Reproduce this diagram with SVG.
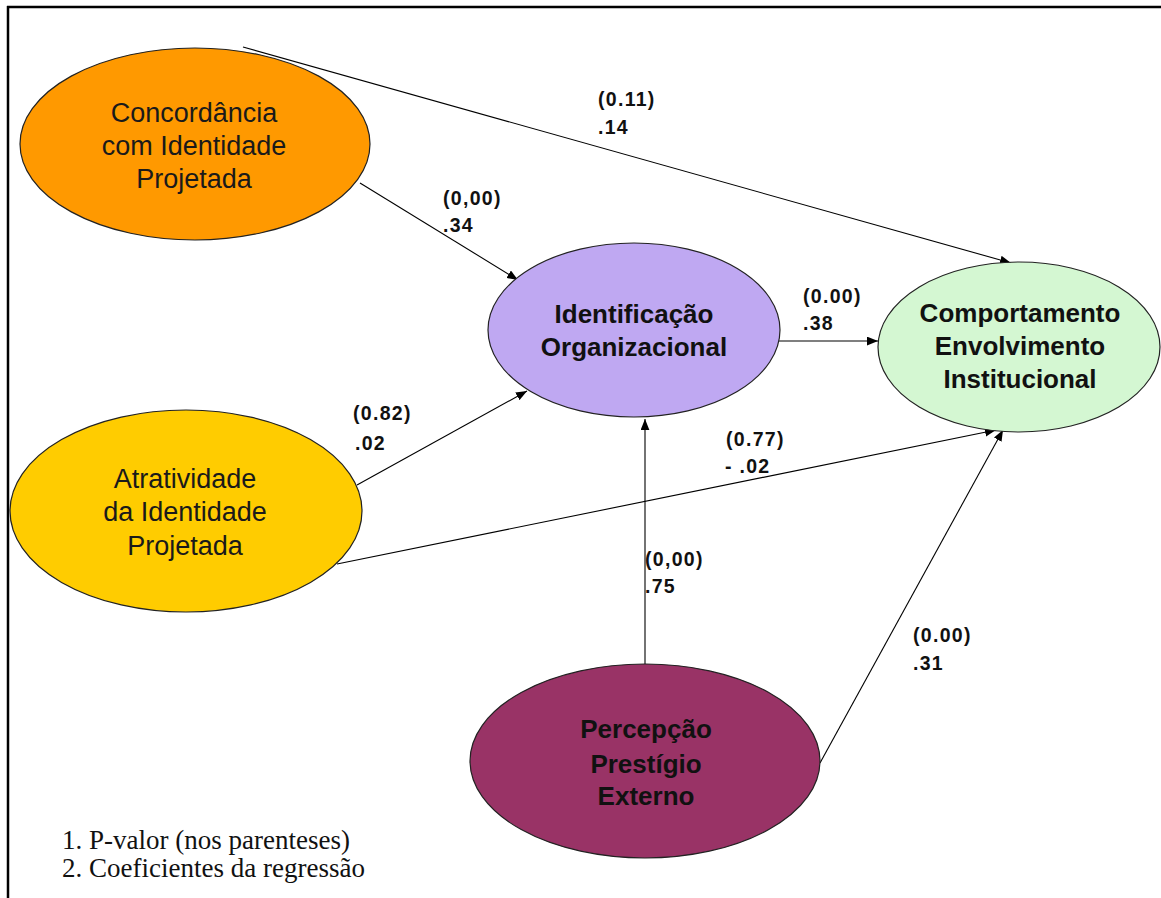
<svg xmlns="http://www.w3.org/2000/svg" width="1161" height="898" viewBox="0 0 1161 898">
  <defs>
    <marker id="arrow" viewBox="0 0 10 8" refX="10" refY="4" markerWidth="11" markerHeight="9" markerUnits="userSpaceOnUse" orient="auto">
      <path d="M0,0 L10,4 L0,8 Z" fill="#000"/>
    </marker>
    <style>
      .node { stroke: #222; stroke-width: 1.2; }
      .lbl-reg { font-family: "Liberation Sans", Arial, sans-serif; font-size: 27px; fill: #1a1a1a; text-anchor: middle; }
      .lbl-bold { font-family: "Liberation Sans", Arial, sans-serif; font-size: 26px; font-weight: bold; fill: #111; text-anchor: middle; }
      .edge { stroke: #000; stroke-width: 1.1; fill: none; marker-end: url(#arrow); }
      .coef { font-family: "Liberation Sans", Arial, sans-serif; font-size: 19.5px; font-weight: bold; letter-spacing: 1.3px; fill: #111; }
      .note { font-family: "Liberation Serif", "Times New Roman", serif; font-size: 27px; fill: #111; }
    </style>
  </defs>

  <rect width="1161" height="898" fill="#fff"/>

  <!-- open frame: top and left rules -->
  <g id="frame" stroke="#000" stroke-width="2.5">
    <line x1="7" y1="7" x2="1161" y2="7"/>
    <line x1="8" y1="6" x2="8" y2="898"/>
  </g>

  <!-- connectors -->
  <g id="connectors">
    <line class="edge" x1="243" y1="47" x2="1011" y2="263"/>
    <line class="edge" x1="360" y1="183" x2="518" y2="280"/>
    <line class="edge" x1="779" y1="341" x2="878" y2="341"/>
    <line class="edge" x1="357" y1="485" x2="527" y2="391"/>
    <line class="edge" x1="337" y1="564" x2="996" y2="430"/>
    <line class="edge" x1="645" y1="665" x2="645" y2="419"/>
    <line class="edge" x1="820" y1="763" x2="1003" y2="430"/>
  </g>

  <!-- coefficient labels -->
  <g id="coefficients">
    <text class="coef" x="598" y="106">(0.11)</text>
    <text class="coef" x="598" y="134">.14</text>
    <text class="coef" x="443" y="205">(0,00)</text>
    <text class="coef" x="443" y="232">.34</text>
    <text class="coef" x="803" y="303">(0.00)</text>
    <text class="coef" x="803" y="330">.38</text>
    <text class="coef" x="353" y="420">(0.82)</text>
    <text class="coef" x="355" y="450">.02</text>
    <text class="coef" x="726" y="446">(0.77)</text>
    <text class="coef" x="725" y="473">- .02</text>
    <text class="coef" x="645" y="566">(0,00)</text>
    <text class="coef" x="645" y="593">.75</text>
    <text class="coef" x="913" y="642">(0.00)</text>
    <text class="coef" x="913" y="670">.31</text>
  </g>

  <g id="concordancia">
    <ellipse class="node" cx="195" cy="144" rx="175" ry="96" fill="#FF9900"/>
    <text class="lbl-reg" x="194" y="122">Concordância</text>
    <text class="lbl-reg" x="194" y="155">com Identidade</text>
    <text class="lbl-reg" x="194" y="188">Projetada</text>
  </g>

  <g id="identificacao">
    <ellipse class="node" cx="634" cy="330" rx="146" ry="87" fill="#BFA8F2"/>
    <text class="lbl-bold" x="634" y="323">Identificação</text>
    <text class="lbl-bold" x="634" y="356">Organizacional</text>
  </g>

  <g id="comportamento">
    <ellipse class="node" cx="1019" cy="347" rx="141" ry="85" fill="#D4F7D2"/>
    <text class="lbl-bold" x="1020" y="322">Comportamento</text>
    <text class="lbl-bold" x="1020" y="355">Envolvimento</text>
    <text class="lbl-bold" x="1020" y="388">Institucional</text>
  </g>

  <g id="atratividade">
    <ellipse class="node" cx="186" cy="511" rx="176" ry="101" fill="#FFCC00"/>
    <text class="lbl-reg" x="185" y="488">Atratividade</text>
    <text class="lbl-reg" x="185" y="521">da Identidade</text>
    <text class="lbl-reg" x="185" y="555">Projetada</text>
  </g>

  <g id="percepcao">
    <ellipse class="node" cx="645" cy="761" rx="175" ry="97" fill="#993366"/>
    <text class="lbl-bold" x="646" y="738">Percepção</text>
    <text class="lbl-bold" x="646" y="773">Prestígio</text>
    <text class="lbl-bold" x="646" y="805">Externo</text>
  </g>

  <!-- legend -->
  <g id="legend">
    <text class="note" x="62" y="849">1. P-valor (nos parenteses)</text>
    <text class="note" x="62" y="877">2. Coeficientes da regressão</text>
  </g>
</svg>
